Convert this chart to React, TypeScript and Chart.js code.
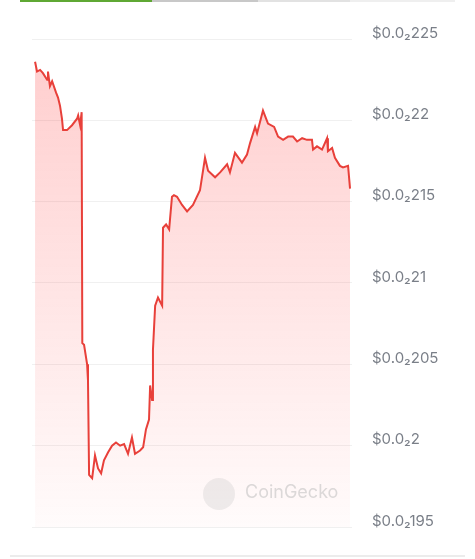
import React, { useEffect, useRef } from "react";
import { Chart, registerables } from "chart.js";

Chart.register(...registerables);

// minutes since start of the 24h window
const times: number[] = [
  0, 9, 23, 36, 55, 59, 68, 78, 96, 105, 114, 123, 128, 146, 169, 192, 197, 206, 213,
  216, 224, 238, 242, 247, 251, 261, 274, 288, 302, 315, 334, 352, 370, 389, 407, 425, 443,
  457, 480, 494, 507, 521, 526, 535, 539, 549, 562, 581, 585, 599, 613, 626, 635, 649, 672,
  695, 722, 754, 777, 791, 823, 846, 878, 891, 914, 946, 969, 983, 1006, 1015, 1042, 1065,
  1093, 1111, 1134, 1157, 1179, 1198, 1221, 1243, 1266, 1271, 1289, 1312, 1335, 1339, 1358,
  1371, 1394, 1408, 1431, 1440,
];

const prices: number[] = [
  0.022236, 0.02223, 0.022231, 0.022229, 0.022225, 0.02223, 0.022221, 0.022224, 0.022217,
  0.022214, 0.022209, 0.022201, 0.022194, 0.022194, 0.022197, 0.022201, 0.022203,
  0.022197, 0.022205,
  0.022063, 0.022062, 0.02205, 0.02204, 0.021982, 0.021982, 0.02198, 0.021994, 0.021986,
  0.021983, 0.021991, 0.021996, 0.022, 0.022002, 0.022, 0.022001, 0.021995, 0.022005,
  0.021995, 0.021997, 0.021999, 0.02201, 0.022016, 0.022037, 0.022028, 0.022059, 0.022086,
  0.022091, 0.022086, 0.022134, 0.022136, 0.022133, 0.022153, 0.022154, 0.022153, 0.022148,
  0.022144, 0.022148, 0.022157, 0.022177, 0.022169, 0.022165, 0.022168, 0.022173, 0.022168,
  0.02218, 0.022174, 0.022179, 0.022186, 0.022196, 0.022192, 0.022206, 0.022198, 0.022196,
  0.02219, 0.022188, 0.02219, 0.02219, 0.022187, 0.022189, 0.022188, 0.022188, 0.022182,
  0.022184, 0.022182, 0.022189, 0.022181, 0.022183, 0.022177, 0.022172, 0.022171, 0.022172,
  0.022158,
];

const tickValues: number[] = [0.02195, 0.022, 0.02205, 0.0221, 0.02215, 0.0222, 0.02225];
const tickLabels: string[] = [
  "$0.0₂195",
  "$0.0₂2",
  "$0.0₂205",
  "$0.0₂21",
  "$0.0₂215",
  "$0.0₂22",
  "$0.0₂225",
];

export default function App() {
  const canvasRef = useRef<HTMLCanvasElement | null>(null);

  useEffect(() => {
    document.body.style.margin = "0";
    const canvas = canvasRef.current;
    if (!canvas) return;
    const data = times.map((t, i) => ({ x: t, y: prices[i] }));
    const chart = new Chart(canvas, {
      type: "line",
      data: {
        datasets: [
          {
            data,
            borderColor: "#e8403a",
            borderWidth: 2,
            pointRadius: 0,
            tension: 0,
            fill: "start",
            backgroundColor: (context: any) => {
              const { ctx, chartArea } = context.chart;
              if (!chartArea) return "rgba(255,60,60,0.15)";
              const g = ctx.createLinearGradient(0, chartArea.top, 0, chartArea.bottom);
              g.addColorStop(0, "rgba(255,60,60,0.26)");
              g.addColorStop(1, "rgba(255,60,60,0.02)");
              return g;
            },
          },
        ],
      },
      options: {
        animation: false,
        responsive: false,
        maintainAspectRatio: false,
        layout: { padding: { top: 39, bottom: 32, left: 32, right: 0 } },
        plugins: { legend: { display: false }, tooltip: { enabled: false } },
        scales: {
          x: {
            type: "linear",
            display: false,
            min: -14,
            max: 1449,
          },
          y: {
            type: "linear",
            position: "right",
            min: 0.02195,
            max: 0.02225,
            afterBuildTicks: (scale: any) => {
              scale.ticks = tickValues.map((v) => ({ value: v }));
            },
            afterFit: (scale: any) => {
              scale.width = 123;
            },
            border: { display: false },
            grid: { color: "rgba(0,0,0,0.06)", drawTicks: false },
            ticks: {
              padding: 20,
              labelOffset: -6,
              color: "#7a7f88",
              font: { family: "Inter", size: 15 },
              callback: (value: any) => {
                const idx = tickValues.findIndex((v) => Math.abs(v - Number(value)) < 1e-9);
                return idx >= 0 ? tickLabels[idx] : "";
              },
            },
          },
        },
      },
    });
    return () => chart.destroy();
  }, []);

  return (
    <div style={{ position: "relative", width: 475, height: 559, background: "#fff", overflow: "hidden" }}>
      <div style={{ position: "absolute", top: 0, left: 20, width: 132, height: 2, background: "#5fa834" }} />
      <div style={{ position: "absolute", top: 0, left: 152, width: 106, height: 2, background: "#c8c8c8" }} />
      <div style={{ position: "absolute", top: 0, left: 258, width: 92, height: 2, background: "#e2e2e2" }} />
      <div style={{ position: "absolute", top: 0, left: 350, width: 105, height: 2, background: "#efefef" }} />
      <canvas ref={canvasRef} width={475} height={559} style={{ position: "absolute", left: 0, top: 0 }} />
      <div
        style={{
          position: "absolute",
          left: 203,
          top: 478,
          width: 32,
          height: 32,
          borderRadius: 16,
          background: "rgba(200,200,200,0.3)",
        }}
      />
      <div
        style={{
          position: "absolute",
          left: 245,
          top: 481,
          fontFamily: "Inter, sans-serif",
          fontSize: 18,
          color: "rgba(190,190,190,0.55)",
        }}
      >
        CoinGecko
      </div>
      <div style={{ position: "absolute", top: 555, left: 10, width: 455, height: 2, background: "#ececec" }} />
    </div>
  );
}
